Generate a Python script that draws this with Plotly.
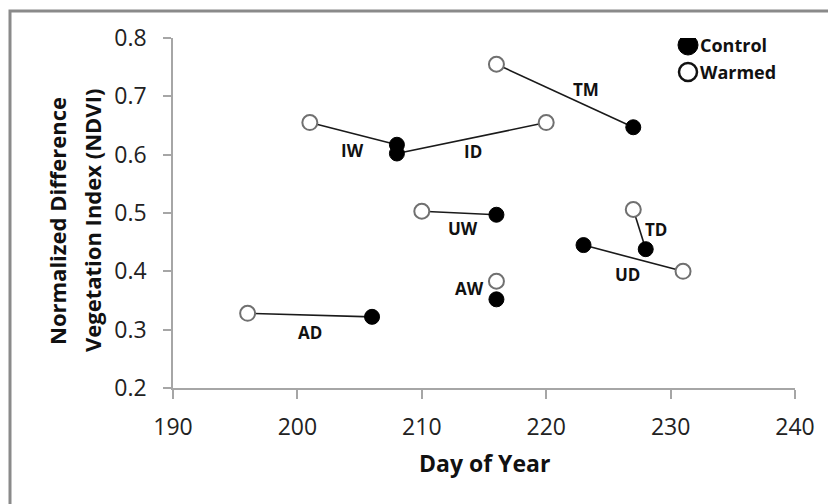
import plotly.graph_objects as go

# ---- data ----
pair_labels = ["AD", "IW", "ID", "TM", "UW", "AW", "TD", "UD"]
control_day = [206, 208, 208, 227, 216, 216, 228, 223]
control_ndvi = [0.322, 0.617, 0.602, 0.647, 0.497, 0.352, 0.438, 0.445]
warmed_day = [196, 201, 220, 216, 210, 216, 227, 231]
warmed_ndvi = [0.328, 0.655, 0.655, 0.755, 0.503, 0.383, 0.506, 0.400]
connected = [True, True, True, True, True, False, True, True]
label_day = [201.0, 204.4, 214.1, 223.2, 213.3, 213.8, 228.8, 226.5]
label_ndvi = [0.296, 0.608, 0.606, 0.712, 0.474, 0.371, 0.472, 0.395]
legend_names = ["Control", "Warmed"]
x_ticks = [190, 200, 210, 220, 230, 240]
y_ticks = [0.2, 0.3, 0.4, 0.5, 0.6, 0.7, 0.8]

FONT = "Open Sans"
W, H = 828, 504
ML, MT = 173, 38
MR = W - 795
MB = H - 388
PW, PH = W - ML - MR, H - MT - MB


def px_x(p):  # page px -> paper
    return (p - ML) / PW


def px_y(p):
    return (H - MB - p) / PH


fig = go.Figure()

# connecting lines
for i, lab in enumerate(pair_labels):
    if connected[i]:
        fig.add_trace(go.Scatter(
            x=[warmed_day[i], control_day[i]],
            y=[warmed_ndvi[i], control_ndvi[i]],
            mode="lines", line=dict(color="#1a1a1a", width=1.6),
            showlegend=False, hoverinfo="skip"))

fig.add_trace(go.Scatter(
    x=control_day, y=control_ndvi, mode="markers", name="Control", showlegend=False,
    marker=dict(size=15, color="black", line=dict(color="black", width=1))))
fig.add_trace(go.Scatter(
    x=warmed_day, y=warmed_ndvi, mode="markers", name="Warmed", showlegend=False,
    marker=dict(size=15, color="white", line=dict(color="#707070", width=2))))

# legend markers drawn on an overlay axis spanning the paper
leg_px = [(688, 45), (688, 72)]
fig.add_trace(go.Scatter(
    x=[px_x(leg_px[0][0])], y=[px_y(leg_px[0][1])], xaxis="x2", yaxis="y2",
    mode="markers", showlegend=False, hoverinfo="skip",
    marker=dict(size=20, color="black", line=dict(color="black", width=1))))
fig.add_trace(go.Scatter(
    x=[px_x(leg_px[1][0])], y=[px_y(leg_px[1][1])], xaxis="x2", yaxis="y2",
    mode="markers", showlegend=False, hoverinfo="skip",
    marker=dict(size=18, color="white", line=dict(color="#111", width=2.5))))

annotations = []
for i, lab in enumerate(pair_labels):
    annotations.append(dict(
        x=label_day[i], y=label_ndvi[i], xref="x", yref="y", text=f"<b>{lab}</b>",
        showarrow=False, font=dict(family=FONT, size=17, color="#111"),
        xanchor="center", yanchor="middle"))

for (lx, ly), name in zip(leg_px, legend_names):
    annotations.append(dict(
        x=px_x(lx + 10), y=px_y(ly), xref="paper", yref="paper", text=f"<b>{name}</b>",
        showarrow=False, font=dict(family=FONT, size=18, color="#111"),
        xanchor="left", yanchor="middle"))

# y axis title in two lines
annotations.append(dict(
    x=px_x(57), y=px_y(221), xref="paper", yref="paper",
    text="<b>Normalized Difference</b>", textangle=-90, showarrow=False,
    font=dict(family=FONT, size=22, color="#111"), xanchor="center", yanchor="middle"))
annotations.append(dict(
    x=px_x(92), y=px_y(221), xref="paper", yref="paper",
    text="<b>Vegetation Index (NDVI)</b>", textangle=-90, showarrow=False,
    font=dict(family=FONT, size=22, color="#111"), xanchor="center", yanchor="middle"))
# x axis title
annotations.append(dict(
    x=0.5, y=px_y(463), xref="paper", yref="paper",
    text="<b>Day of Year</b>", showarrow=False,
    font=dict(family=FONT, size=23, color="#111"), xanchor="center", yanchor="middle"))

fig.update_layout(
    width=W, height=H, autosize=False,
    margin=dict(l=ML, r=MR, t=MT, b=MB),
    paper_bgcolor="white", plot_bgcolor="white",
    font=dict(family=FONT, size=22, color="#222"),
    annotations=annotations,
    showlegend=False,
    xaxis2=dict(overlaying="x", range=[0, 1], visible=False, fixedrange=True),
    yaxis2=dict(overlaying="y", range=[0, 1], visible=False, fixedrange=True),
    shapes=[dict(type="rect", xref="paper", yref="paper",
                 x0=px_x(10), x1=px_x(900), y0=px_y(700), y1=px_y(11),
                 line=dict(color="#8a8a8a", width=3), layer="above")],
)
fig.update_layout(xaxis=dict(
    range=[190, 240], tickvals=x_ticks, ticktext=[str(v) for v in x_ticks],
    showgrid=False, zeroline=False, showline=True, linecolor="#a6a6a6",
    linewidth=1.5, ticks="outside", ticklen=9, tickcolor="#a6a6a6",
    tickwidth=1.5, tickfont=dict(family=FONT, size=23, color="#222"),
    ticklabelstandoff=9))
fig.update_layout(yaxis=dict(
    range=[0.2, 0.8], tickvals=y_ticks, ticktext=[f"{v:.1f}" for v in y_ticks],
    showgrid=False, zeroline=False, showline=True, linecolor="#a6a6a6",
    linewidth=1.5, ticks="outside", ticklen=8, tickcolor="#a6a6a6",
    tickwidth=1.5, tickfont=dict(family=FONT, size=23, color="#222"),
    ticklabelstandoff=12))

fig.write_html(
    "out.html",
    config={"displayModeBar": False},
    post_script="document.body.style.margin='0';document.body.style.overflow='hidden';"
                "document.documentElement.style.overflow='hidden';")
